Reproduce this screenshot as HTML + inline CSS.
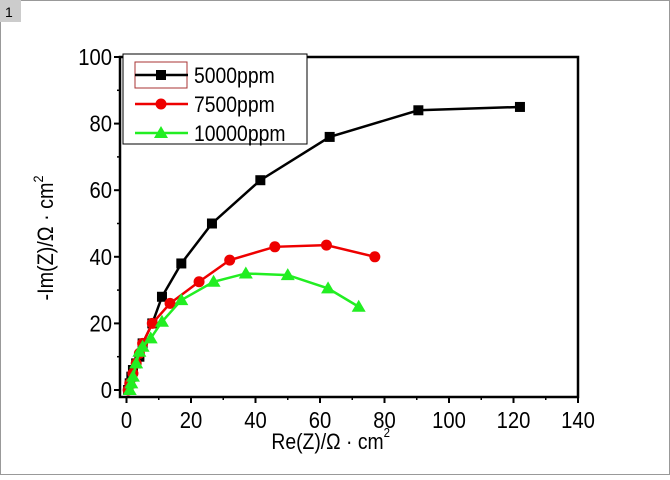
<!DOCTYPE html>
<html><head><meta charset="utf-8"><style>
body{margin:0;background:#fff;font-family:"Liberation Sans",sans-serif}
svg text{font-family:"Liberation Sans",sans-serif}
</style></head><body>
<svg width="670" height="475">
<rect x="0.5" y="0.5" width="669" height="474" fill="#fff" stroke="#999"/>
<rect x="0" y="0" width="21" height="22" fill="#ccc"/>
<text x="5" y="17" font-size="14" fill="#000">1</text>
<g id="plot"></g>
</svg>
<script>
const xTicks=[0,20,40,60,80,100,120,140];
const yTicks=[0,20,40,60,80,100];
const names=["5000ppm","7500ppm","10000ppm"];
const colors=["#000","#e00","#2e2"];
const s1x=[0.5,1,1.5,2,3,4,5,8,11,17,26.5,41.5,63,90.5,122];
const s1y=[0,2,4,6,8,10,14,20,28,38,50,63,76,84,85];
const s2x=[0.5,1,2,3,4,5,8,13.5,22.5,32,46,62,77];
const s2y=[0,2,5,8,11,14,20,26,32.5,39,43,43.5,40];
const s3x=[1,1.5,2,3,4,5,7.5,11,17,27,37,50,62.5,72];
const s3y=[0,2,4,8,11.5,13,15.5,20.5,27,32.5,35,34.5,30.5,25];
const L=120,R=578,T=57,B=397;
const X=v=>126.5+(v/140)*(578-126.5);
const Y=v=>390-(v/100)*(390-57);
const g=document.getElementById('plot');
const NS="http://www.w3.org/2000/svg";
function mk(t,a,p){const e=document.createElementNS(NS,t);for(const k in a)e.setAttribute(k,a[k]);(p||g).appendChild(e);return e;}
let r=mk('rect',{x:L,y:T,width:R-L,height:B-T,fill:'none',stroke:'#000','stroke-width':2.5});


xTicks.forEach((v,i)=>{
 let l=mk('line',{x1:X(v),x2:X(v),y1:B,y2:B+6,stroke:'#000','stroke-width':2});
 
 
 if(i<xTicks.length-1){let m=mk('line',{x1:X(v+10),x2:X(v+10),y1:B,y2:B+3,stroke:'#000','stroke-width':1.5});
 
 }
 let t=mk('text',{x:X(v),y:B+31,'font-size':23,'text-anchor':'middle',transform:`translate(${X(v)*0.12},0) scale(0.88,1)`});t.textContent=v;
 
 
});
yTicks.forEach((v,i)=>{
 let l=mk('line',{x1:L-6,x2:L,y1:Y(v),y2:Y(v),stroke:'#000','stroke-width':2});
 
 
 if(i<yTicks.length-1){let m=mk('line',{x1:L-3,x2:L,y1:Y(v+10),y2:Y(v+10),stroke:'#000','stroke-width':1.5});
 
 }
 let t=mk('text',{x:L-8,y:Y(v)+8,'font-size':23,'text-anchor':'end',transform:`translate(${(L-8)*0.12},0) scale(0.88,1)`});t.textContent=v;
 
 
});
let xt=mk('text',{x:272,y:449,'font-size':22,transform:'translate(32,0) scale(0.88,1)'});xt.innerHTML='Re(Z)/Ω · cm<tspan font-size="13" dy="-12">2</tspan>';


let yt=mk('text',{x:0,y:0,'font-size':22,'text-anchor':'middle',transform:'translate(53,238) rotate(-90) scale(0.9,1)'});yt.innerHTML='-Im(Z)/Ω · cm<tspan font-size="14" dy="-10">2</tspan>';


function marker(k,x,y,p){
 let e;
 if(k==0)e=mk('rect',{x:x-5,y:y-5,width:10,height:10,fill:colors[0]},p);
 else if(k==1)e=mk('circle',{cx:x,cy:y,r:5.5,fill:colors[1]},p);
 else e=mk('polygon',{points:`${x},${y-7} ${x-7},${y+5} ${x+7},${y+5}`,fill:colors[2]},p);
 
 
}
[[s1x,s1y],[s2x,s2y],[s3x,s3y]].forEach(([xs,ys],k)=>{
 let pl=mk('polyline',{points:xs.map((v,i)=>X(v)+','+Y(ys[i])).join(' '),fill:'none',stroke:colors[k],'stroke-width':2.5});
 
 
 xs.forEach((v,i)=>marker(k,X(v),Y(ys[i])));
});
let lg=mk('rect',{x:123,y:54,width:184,height:90,fill:'#fff',stroke:'#000','stroke-width':1});


let hl=mk('rect',{x:135,y:62,width:52,height:26,fill:'none',stroke:'#a33','stroke-width':1});


names.forEach((n,k)=>{
 const y=75+k*29;
 let l=mk('line',{x1:135,x2:188,y1:y,y2:y,stroke:colors[k],'stroke-width':2.5});
 
 
 marker(k,161,y);
 let t=mk('text',{x:194,y:y+8,'font-size':22,transform:`translate(${194*0.12},0) scale(0.88,1)`});t.textContent=n;
 
 
});
</script>
</body></html>
